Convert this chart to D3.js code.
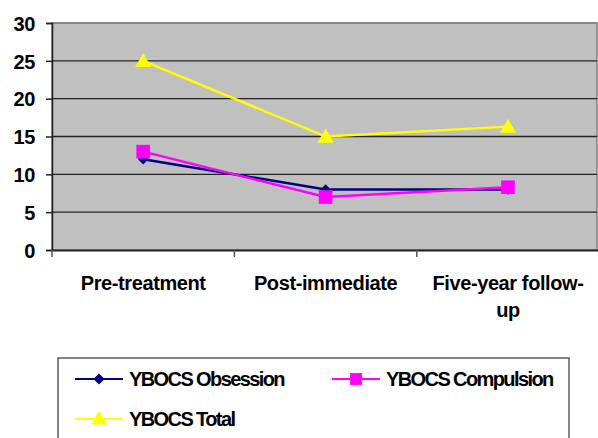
<!DOCTYPE html>
<html>
<head>
<meta charset="utf-8">
<script src="https://cdn.jsdelivr.net/npm/d3@7"></script>
<style>
  html, body { margin: 0; padding: 0; background: #fff; }
  svg { display: block; }
  text { font-family: "Liberation Sans", Arial, sans-serif; font-weight: bold; fill: #000; }
</style>
</head>
<body>
<svg id="chart" width="598" height="438"></svg>
<script>
// Time points and YBOCS scores
const categories = ["Pre-treatment", "Post-immediate", "Five-year follow-up"];
const categoryLines = [["Pre-treatment"], ["Post-immediate"], ["Five-year follow-", "up"]];
const obsession = [12, 8, 8];
const compulsion = [13, 7, 8.3];
const total = [25, 15, 16.3];
const yTicks = [0, 5, 10, 15, 20, 25, 30];

const seriesList = [
  { name: "YBOCS Obsession", values: obsession, color: "#000080", marker: "diamond" },
  { name: "YBOCS Compulsion", values: compulsion, color: "#FF00FF", marker: "square" },
  { name: "YBOCS Total", values: total, color: "#FFFF00", marker: "triangle" }
];

const svg = d3.select("#chart");
const plot = { left: 52, right: 597, top: 23, bottom: 250 };

const x = d3.scaleBand().domain(categories).range([plot.left, plot.left + 3 * 182.4]).padding(0);
const y = d3.scaleLinear().domain([0, 30]).range([plot.bottom, plot.top]);

// Plot area
svg.append("rect")
  .attr("x", plot.left).attr("y", plot.top)
  .attr("width", plot.right - plot.left).attr("height", plot.bottom - plot.top)
  .attr("fill", "#C0C0C0")
  .attr("stroke", "#808080").attr("stroke-width", 1.5);

// Gridlines
svg.append("g").selectAll("line").data(yTicks.filter(d => d > 0)).join("line")
  .attr("x1", plot.left).attr("x2", plot.right)
  .attr("y1", d => y(d)).attr("y2", d => y(d))
  .attr("stroke", d => d === 30 ? "#808080" : "#222").attr("stroke-width", 1.3);

// Y axis
const yAxis = svg.append("g").attr("transform", `translate(${plot.left},0)`)
  .call(d3.axisLeft(y).tickValues(yTicks).tickSize(6).tickPadding(11));
yAxis.select(".domain").attr("stroke", "#222").attr("stroke-width", 1.5);
yAxis.selectAll(".tick line").attr("stroke", "#222").attr("stroke-width", 1.5);
yAxis.selectAll(".tick text")
  .style("font-family", '"Liberation Sans", Arial, sans-serif')
  .style("font-weight", "bold").style("font-size", "20px").attr("fill", "#000")
  .style("letter-spacing", "-0.4px")
  .attr("dy", "0.36em");

// X axis
const xAxis = svg.append("g").attr("transform", `translate(0,${plot.bottom})`)
  .call(d3.axisBottom(x).tickValues([]).tickSizeOuter(0));
xAxis.select(".domain").attr("stroke", "#222").attr("stroke-width", 1.8);
const bounds = categories.map(c => x(c));
xAxis.selectAll("line.sep").data(bounds).join("line").attr("class", "sep")
  .attr("x1", d => d).attr("x2", d => d).attr("y1", 0).attr("y2", 7)
  .attr("stroke", "#555").attr("stroke-width", 1.5);

// Category labels
const catG = svg.append("g");
categories.forEach((c, i) => {
  const t = catG.append("text")
    .attr("x", x(c) + x.bandwidth() / 2)
    .attr("y", 290)
    .attr("text-anchor", "middle")
    .style("font-size", "20px")
    .style("letter-spacing", "-0.4px");
  categoryLines[i].forEach((line, j) => {
    t.append("tspan").attr("x", x(c) + x.bandwidth() / 2).attr("dy", j === 0 ? 0 : 27).text(line);
  });
});

// Marker shapes
const symbolFor = {
  diamond: d3.symbol().type(d3.symbolDiamond2).size(70),
  square: d3.symbol().type(d3.symbolSquare).size(185),
  triangle: d3.symbol().type(d3.symbolTriangle).size(115)
};

const cx = i => x(categories[i]) + x.bandwidth() / 2;
const lineGen = d3.line().x((d, i) => cx(i)).y(d => y(d));

seriesList.forEach(s => {
  const g = svg.append("g");
  g.append("path").datum(s.values)
    .attr("d", lineGen).attr("fill", "none")
    .attr("stroke", s.color).attr("stroke-width", 2.4);
  g.selectAll("path.m").data(s.values).join("path").attr("class", "m")
    .attr("d", symbolFor[s.marker])
    .attr("transform", (d, i) => `translate(${cx(i)},${y(d) + (s.marker === "triangle" ? 1.5 : 0)})`)
    .attr("fill", s.color);
});

// Legend
const legend = svg.append("g");
legend.append("rect")
  .attr("x", 58).attr("y", 358).attr("width", 511).attr("height", 100)
  .attr("fill", "#fff").attr("stroke", "#333").attr("stroke-width", 1.2);

const legendPos = [
  { lx: 75, ty: 379 },
  { lx: 332, ty: 379 },
  { lx: 75, ty: 419 }
];
const legendSymbol = {
  diamond: d3.symbol().type(d3.symbolDiamond2).size(80),
  square: d3.symbol().type(d3.symbolSquare).size(140),
  triangle: d3.symbol().type(d3.symbolTriangle).size(110)
};
seriesList.forEach((s, i) => {
  const p = legendPos[i];
  legend.append("line")
    .attr("x1", p.lx).attr("x2", p.lx + 48).attr("y1", p.ty).attr("y2", p.ty)
    .attr("stroke", s.color).attr("stroke-width", 2);
  legend.append("path")
    .attr("d", legendSymbol[s.marker])
    .attr("transform", `translate(${p.lx + 24},${p.ty + (s.marker === "triangle" ? 1 : 0)})`)
    .attr("fill", s.color);
  legend.append("text")
    .attr("x", p.lx + 54).attr("y", p.ty + 7)
    .style("font-size", "20px")
    .style("letter-spacing", "-1.6px")
    .text(s.name);
});
</script>
</body>
</html>
